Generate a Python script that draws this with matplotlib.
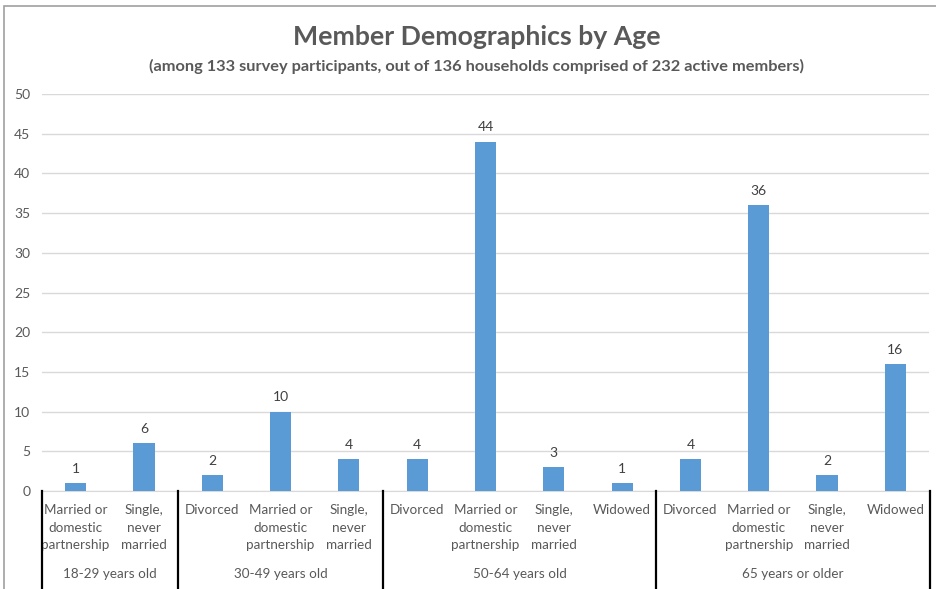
import matplotlib
matplotlib.use("Agg")
import matplotlib.pyplot as plt
from matplotlib.patches import Rectangle
from matplotlib.lines import Line2D
import matplotlib.transforms as mtransforms

plt.rcParams['font.family'] = ['Lato', 'DejaVu Sans']

groups = ['18-29 years old', '30-49 years old', '50-64 years old', '65 years or older']
group_categories = [
    ['Married or\ndomestic\npartnership', 'Single,\nnever\nmarried'],
    ['Divorced', 'Married or\ndomestic\npartnership', 'Single,\nnever\nmarried'],
    ['Divorced', 'Married or\ndomestic\npartnership', 'Single,\nnever\nmarried', 'Widowed'],
    ['Divorced', 'Married or\ndomestic\npartnership', 'Single,\nnever\nmarried', 'Widowed'],
]
group_values = [
    [1, 6],
    [2, 10, 4],
    [4, 44, 3, 1],
    [4, 36, 2, 16],
]

W, H = 937, 589
fig = plt.figure(figsize=(W / 100, H / 100), dpi=100)
ax = fig.add_axes([41.5 / W, 1 - 491 / H, (929.5 - 41.5) / W, (491 - 94) / H])

labels = [c for cats in group_categories for c in cats]
values = [v for vals in group_values for v in vals]
x = list(range(len(values)))

bar_color = '#5B9BD5'
text_gray = '#595959'

ax.bar(x, values, width=0.31, color=bar_color, zorder=3)
for xi, v in zip(x, values):
    ax.annotate(str(v), (xi, v), xytext=(0, 6), textcoords='offset points',
                ha='center', va='bottom', fontsize=10, color='#404040')

ax.set_xlim(-0.5, len(values) - 0.5)
ax.set_ylim(0, 50)
ax.set_yticks(range(0, 51, 5))
ax.grid(axis='y', color='#d9d9d9', linewidth=1, zorder=0)
ax.tick_params(axis='y', length=0, labelsize=10, labelcolor=text_gray, pad=8)
ax.set_xticks([])
for side in ['top', 'right', 'left']:
    ax.spines[side].set_visible(False)
ax.spines['bottom'].set_color('#d9d9d9')

# multi-level category axis
trans = mtransforms.blended_transform_factory(ax.transData, fig.transFigure)
for xi, lab in zip(x, labels):
    ax.text(xi, 1 - 504 / H, lab, transform=trans, ha='center', va='top',
            fontsize=9.7, color=text_gray, linespacing=1.55, clip_on=False)

start = 0
edges = [-0.5]
for g, cats in zip(groups, group_categories):
    end = start + len(cats)
    ax.text((start + end - 1) / 2, 1 - 574 / H, g, transform=trans, ha='center',
            va='center', fontsize=9.7, color=text_gray, clip_on=False)
    edges.append(end - 0.5)
    start = end
for e in edges:
    fig.add_artist(Line2D([e, e], [1 - 491 / H, 0], transform=trans,
                          color='black', linewidth=1.6))

fig.text(477 / W, 1 - 37 / H, 'Member Demographics by Age', ha='center', va='center',
         fontsize=19.2, fontweight='bold', color=text_gray)
fig.text(477 / W, 1 - 66 / H,
         '(among 133 survey participants, out of 136 households comprised of 232 active members)',
         ha='center', va='center', fontsize=11.8, fontweight='bold', color=text_gray)

fig.add_artist(Rectangle((4 / W, -0.1), 1.1, 1 - 6 / H + 0.1, transform=fig.transFigure,
                         fill=False, edgecolor='#a0a0a0', linewidth=1.2))

fig.savefig('out.png', dpi=100)
